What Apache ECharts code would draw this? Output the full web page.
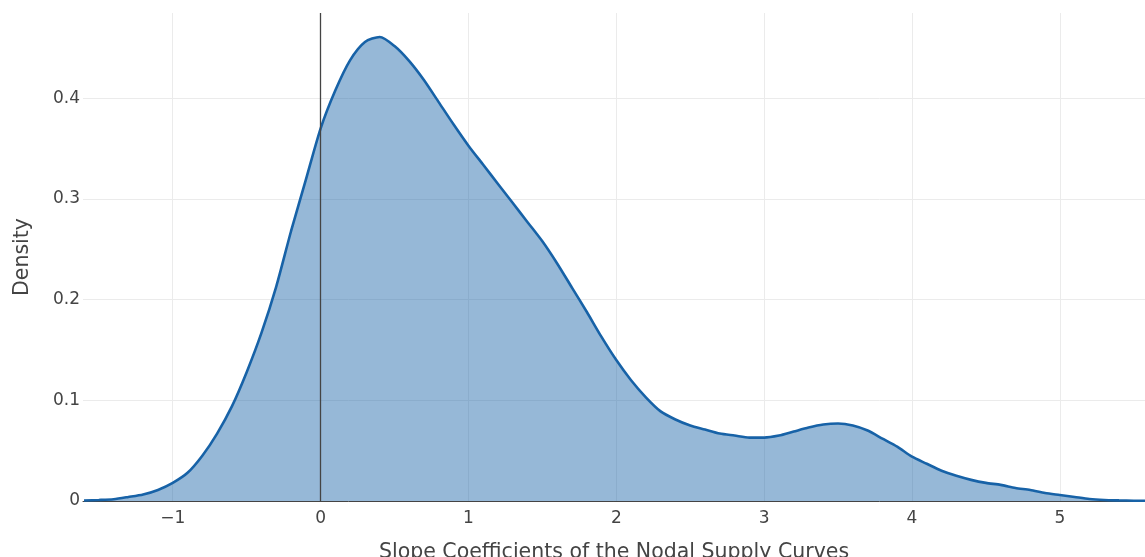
<!DOCTYPE html>
<html>
<head>
<meta charset="utf-8">
<script src="https://cdn.jsdelivr.net/npm/echarts@6/dist/echarts.min.js"></script>
<style>
  html, body { margin: 0; padding: 0; background: #fff; }
  #chart { width: 1145px; height: 557px; }
</style>
</head>
<body>
<div id="chart"></div>
<script>
// Kernel density estimate of slope coefficients
const slopeValues = [
  -1.6, -1.5, -1.4, -1.3, -1.2, -1.1, -1.0, -0.9, -0.8, -0.7, -0.6, -0.5, -0.4, -0.3, -0.2, -0.1,
  0.0, 0.1, 0.2, 0.3, 0.4, 0.5, 0.6, 0.7, 0.8, 0.9, 1.0, 1.1, 1.2, 1.3, 1.4, 1.5, 1.6, 1.7, 1.8, 1.9,
  2.0, 2.1, 2.2, 2.3, 2.4, 2.5, 2.6, 2.7, 2.8, 2.9, 3.0, 3.1, 3.2, 3.3, 3.4, 3.5, 3.6, 3.7, 3.8, 3.9,
  4.0, 4.1, 4.2, 4.3, 4.4, 4.5, 4.6, 4.7, 4.8, 4.9, 5.0, 5.1, 5.2, 5.3, 5.4, 5.5, 5.58
];
const densityValues = [
  0.0005, 0.001, 0.0018, 0.004, 0.0065, 0.011, 0.018, 0.028, 0.045, 0.067, 0.094, 0.128, 0.167, 0.213, 0.268, 0.319,
  0.370, 0.408, 0.438, 0.456, 0.461, 0.452, 0.437, 0.418, 0.396, 0.374, 0.353, 0.334, 0.315, 0.296, 0.277, 0.258, 0.236, 0.212, 0.188, 0.163,
  0.140, 0.120, 0.103, 0.089, 0.081, 0.075, 0.071, 0.067, 0.065, 0.063, 0.063, 0.065, 0.069, 0.073, 0.076, 0.077, 0.075, 0.070, 0.062, 0.054,
  0.044, 0.037, 0.030, 0.025, 0.021, 0.018, 0.016, 0.013, 0.011, 0.008, 0.006, 0.004, 0.002, 0.001, 0.0006, 0.0003, 0.0002
];
const xTicks = [-1, 0, 1, 2, 3, 4, 5];
const yTicks = [0, 0.1, 0.2, 0.3, 0.4];
const xRange = [-1.607, 5.576];
const yRange = [0, 0.4848];

const points = slopeValues.map((x, i) => [x, densityValues[i]]);
const fontFamily = '"DejaVu Sans", Verdana, sans-serif';
const textColor = '#444';
const gridColor = '#ebebeb';

const chart = echarts.init(document.getElementById('chart'), null, { renderer: 'canvas' });
chart.setOption({
  animation: false,
  backgroundColor: '#fff',
  grid: { left: 83, right: 0, top: 13, bottom: 56, containLabel: false, outerBoundsMode: 'none' },
  xAxis: {
    type: 'value',
    min: xRange[0],
    max: xRange[1],
    name: 'Slope Coefficients of the Nodal Supply Curves',
    nameLocation: 'middle',
    nameGap: 41,
    nameTextStyle: { fontFamily, fontSize: 20.5, color: textColor },
    axisLine: { show: true, onZero: false, lineStyle: { color: '#444', width: 1 } },
    axisTick: { show: false, customValues: xTicks },
    axisLabel: {
      customValues: xTicks,
      fontFamily, fontSize: 17, color: textColor, margin: 9,
      formatter: v => String(v).replace('-', '\u2212')
    },
    splitLine: { show: true, lineStyle: { color: gridColor, width: 1 } }
  },
  yAxis: {
    type: 'value',
    min: yRange[0],
    max: yRange[1],
    name: 'Density',
    nameLocation: 'middle',
    nameGap: 50,
    nameRotate: 90,
    nameTextStyle: { fontFamily, fontSize: 20.5, color: textColor },
    axisLine: { show: false },
    axisTick: { show: false, customValues: yTicks },
    axisLabel: {
      customValues: yTicks,
      fontFamily, fontSize: 17, color: textColor, margin: 3,
      formatter: v => (v === 0 ? '0' : String(Math.round(v * 10) / 10))
    },
    splitLine: { show: true, lineStyle: { color: gridColor, width: 1 } }
  },
  series: [{
    type: 'line',
    data: points,
    smooth: 0.25,
    symbol: 'none',
    lineStyle: { color: 'rgb(23,98,167)', width: 2.6 },
    areaStyle: { color: 'rgba(23,98,167,0.45)', opacity: 1 },
    markLine: {
      silent: true,
      symbol: 'none',
      label: { show: false },
      lineStyle: { color: '#444', width: 1.3, type: 'solid' },
      data: [{ xAxis: 0 }]
    }
  }]
});
</script>
</body>
</html>
